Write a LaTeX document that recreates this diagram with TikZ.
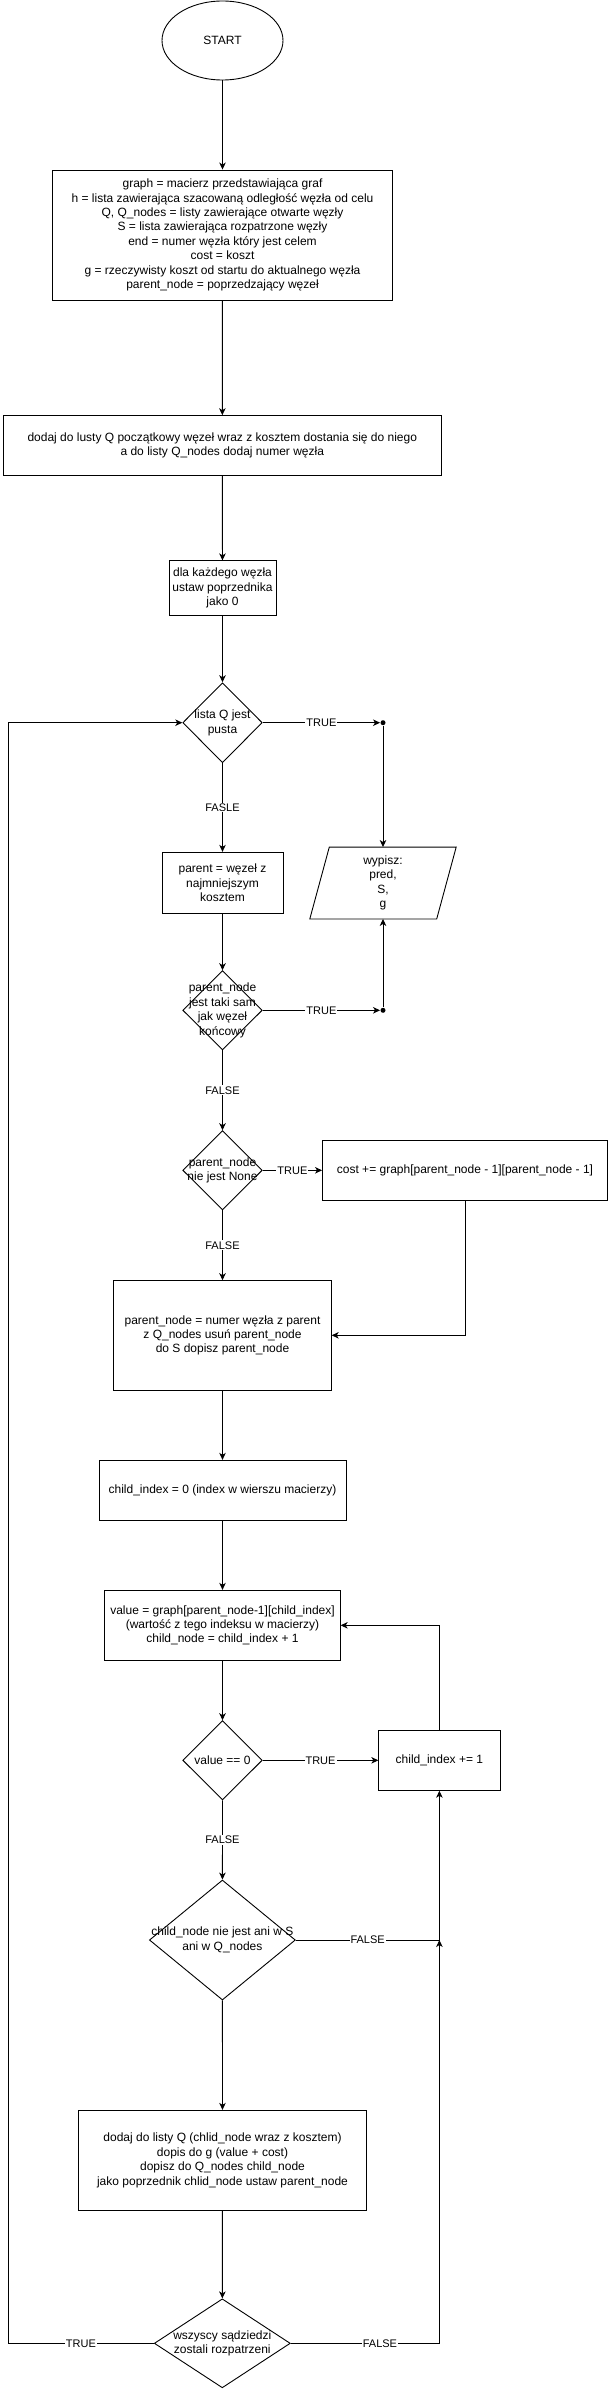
\documentclass[tikz,border=0pt]{standalone}
\usepackage{fontspec}
\setmainfont{Liberation Sans}
\usetikzlibrary{shapes.geometric,arrows.meta}
\begin{document}
\begin{tikzpicture}[x=1pt,y=-1pt,line width=0.9pt]
    \tikzset{
    txt/.style={font=\fontsize{12}{14.4}\selectfont},
    box/.style={rectangle,draw,align=center,inner sep=2pt,txt},
    dec/.style={diamond,draw,inner sep=0pt},
    dtxt/.style={align=center,inner sep=0pt,txt},
    arr/.style={-{Stealth[length=7pt,width=6.5pt,inset=2pt]}},
    lab/.style={fill=white,inner sep=1pt,font=\fontsize{11}{13.2}\selectfont},
    dot/.style={circle,fill,inner sep=0pt,minimum size=5pt},
    }
    \useasboundingbox (0,0) rectangle (608,2389);

    \node[ellipse,draw,minimum width=121pt,minimum height=79pt,txt] (start) at (222.5,40.5) {START};
    \node[box,minimum width=340pt,minimum height=130pt] (init) at (222.5,235) {graph = macierz przedstawiająca graf\\h = lista zawierająca szacowaną odległość węzła od celu\\Q, Q\_nodes = listy zawierające otwarte węzły\\S = lista zawierająca rozpatrzone węzły\\end = numer węzła który jest celem\\cost = koszt\\g = rzeczywisty koszt od startu do aktualnego węzła\\parent\_node = poprzedzający węzeł};
    \node[box,minimum width=438.5pt,minimum height=59.3pt] (addq) at (222.3,445.3) {dodaj do lusty Q początkowy węzeł wraz z kosztem dostania się do niego\\a do listy Q\_nodes dodaj numer węzła};
    \node[box,minimum width=107pt,minimum height=54.3pt] (pred0) at (222.5,588) {dla każdego węzła\\ustaw poprzednika\\jako 0};
    \node[dec,minimum width=79.5pt,minimum height=80pt,label={[dtxt]center:{lista Q jest\\pusta}}] (qempty) at (222.5,722.7) {};
    \node[dot] (j1) at (383,722.7) {};
    \node[box,minimum width=121pt,minimum height=61pt] (parent) at (222.5,882.8) {parent = węzeł z\\najmniejszym\\kosztem};
    \node[minimum width=126pt,minimum height=71pt,align=center,txt] (out) at (383,883) {wypisz:\\pred,\\S,\\g};
    \draw ([xshift=-9.75pt]out.south west) -- ([xshift=9.75pt]out.north west) -- ([xshift=9.75pt]out.north east) -- ([xshift=-9.75pt]out.south east) -- cycle;
    \node[dec,minimum width=79.5pt,minimum height=79.3pt,label={[dtxt]center:{parent\_node\\jest taki sam\\jak węzeł\\końcowy}}] (isend) at (222.5,1010.3) {};
    \node[dot] (j2) at (383,1010.3) {};
    \node[dec,minimum width=79.5pt,minimum height=79.3pt,label={[dtxt]center:{parent\_node\\nie jest None}}] (notnone) at (222.5,1170.3) {};
    \node[box,minimum width=285pt,minimum height=59.3pt] (cost) at (465,1170.3) {cost += graph[parent\_node - 1][parent\_node - 1]};
    \node[box,minimum width=217.5pt,minimum height=109.3pt] (update) at (222.5,1335.3) {parent\_node = numer węzła z parent\\z Q\_nodes usuń parent\_node\\do S dopisz parent\_node};
    \node[box,minimum width=247pt,minimum height=60pt] (cidx0) at (222.5,1490.3) {child\_index = 0 (index w wierszu macierzy)};
    \node[box,minimum width=235.4pt,minimum height=70pt] (val) at (222.5,1625.3) {value = graph[parent\_node-1][child\_index]\\(wartość z tego indeksu w macierzy)\\child\_node = child\_index + 1};
    \node[dec,minimum width=79.5pt,minimum height=79.3pt,label={[dtxt]center:{value == 0}}] (iszero) at (222.5,1760.3) {};
    \node[box,minimum width=121.2pt,minimum height=60pt] (inc) at (439.4,1760.3) {child\_index += 1};
    \node[dec,minimum width=146pt,minimum height=120pt,label={[dtxt]center:{child\_node nie jest ani w S\\ani w Q\_nodes}}] (notseen) at (222.4,1940) {};
    \node[box,minimum width=287.6pt,minimum height=100pt] (addchild) at (222.5,2160.3) {dodaj do listy Q (chlid\_node wraz z kosztem)\\dopis do g (value + cost)\\dopisz do Q\_nodes child\_node\\jako poprzednik chlid\_node ustaw parent\_node};
    \node[dec,minimum width=136pt,minimum height=89pt,label={[dtxt]center:{wszyscy sądziedzi\\zostali rozpatrzeni}}] (alldone) at (222.3,2343.3) {};
    \coordinate (back) at (8,0);
    \coordinate (meet) at (inc.south |- notseen.east);

    \draw[arr] (start) -- (init);
    \draw[arr] (init) -- (addq);
    \draw[arr] (addq) -- (pred0);
    \draw[arr] (pred0) -- (qempty);
    \draw[arr] (qempty.east) -- node[lab] {TRUE} (j1);
    \draw[arr] (j1) -- (out.north);
    \draw[arr] (qempty) -- node[lab] {FASLE} (parent);
    \draw[arr] (parent) -- (isend);
    \draw[arr] (isend.east) -- node[lab] {TRUE} (j2);
    \draw[arr] (j2) -- (out.south);
    \draw[arr] (isend) -- node[lab] {FALSE} (notnone);
    \draw[arr] (notnone.east) -- node[lab] {TRUE} (cost.west);
    \draw[arr] (cost.south) |- (update.east);
    \draw[arr] (notnone) -- node[lab] {FALSE} (update);
    \draw[arr] (update) -- (cidx0);
    \draw[arr] (cidx0) -- (val);
    \draw[arr] (val) -- (iszero);
    \draw[arr] (iszero.east) -- node[lab] {TRUE} (inc.west);
    \draw[arr] (inc.north) |- (val.east);
    \draw[arr] (iszero) -- node[lab] {FALSE} (notseen);
    \draw[arr] (notseen.east) -| node[lab,pos=0.25] {FALSE} (inc.south);
    \draw[arr] (notseen) -- (addchild);
    \draw[arr] (addchild) -- (alldone);
    \draw[arr] (alldone.east) -| node[lab,pos=0.3] {FALSE} (meet);
    \draw[arr] (alldone.west) -- node[lab] {TRUE} (alldone.west -| back) |- (qempty.west);

\end{tikzpicture}
\end{document}
